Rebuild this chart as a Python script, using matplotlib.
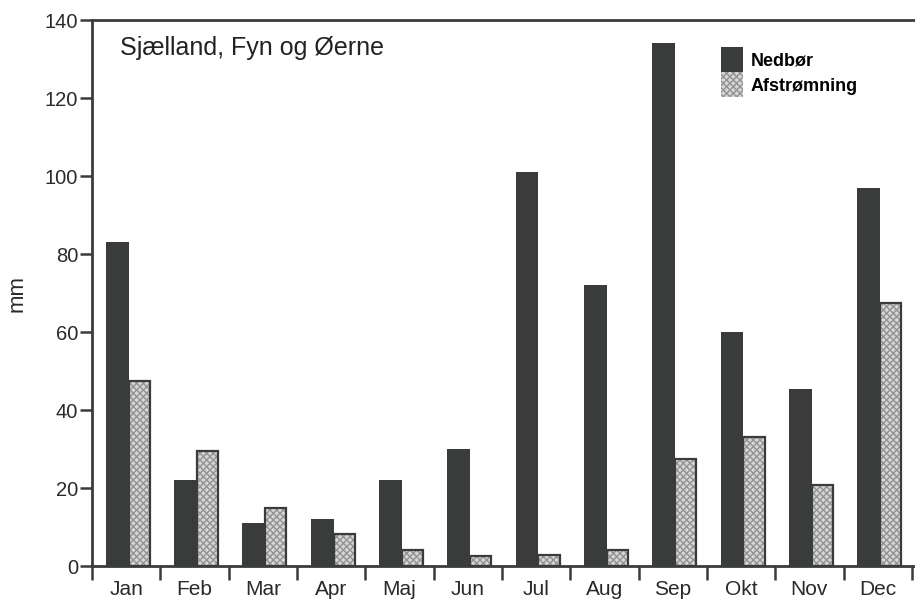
import matplotlib

matplotlib.use("Agg")
import matplotlib.pyplot as plt
import numpy as np
from matplotlib.patches import Patch

plt.rcParams["font.family"] = ["Liberation Sans", "DejaVu Sans"]

MONTHS = ["Jan", "Feb", "Mar", "Apr", "Maj", "Jun", "Jul", "Aug", "Sep", "Okt", "Nov", "Dec"]
NEDBOR = [83, 22, 11, 12, 22, 30, 101, 72, 134, 60, 45.5, 97]
AFSTROMNING = [47.5, 29.5, 15, 8.3, 4, 2.6, 2.8, 4, 27.5, 33, 20.8, 67.5]

DARK = "#393c3a"
STIPPLE_FACE = "#d6d6d6"
STIPPLE_DOTS = "#939393"


def main() -> None:
    fig = plt.figure(figsize=(9.15, 6.01), dpi=100)
    # axes runs past the right edge, as in the cropped scan
    ax = fig.add_axes([0.1005, 0.0582, 0.926, 0.9085])

    x = np.arange(len(MONTHS))
    ax.bar(x + 0.2, NEDBOR, width=0.335, align="edge", color=DARK, linewidth=0)
    ax.bar(x + 0.535, AFSTROMNING, width=0.31, align="edge", color=STIPPLE_FACE,
           edgecolor=STIPPLE_DOTS, hatch="xxxxx", linewidth=0)
    ax.bar(x + 0.535, AFSTROMNING, width=0.31, align="edge", fill=False,
           edgecolor=DARK, linewidth=1.6)

    ax.set_xlim(0, 12.4)
    ax.set_ylim(0, 140)
    ax.set_yticks(np.arange(0, 141, 20))
    ax.set_xticks(np.arange(0, 13))
    ax.set_xticklabels([])
    ax.set_xticks(x + 0.5, minor=True)
    ax.set_xticklabels(MONTHS, minor=True)
    ax.tick_params(axis="x", which="major", direction="out", length=10, width=1.8, color=DARK)
    ax.tick_params(axis="x", which="minor", length=0, labelsize=15, pad=10)
    ax.tick_params(axis="y", direction="out", length=9, width=1.8, color=DARK,
                   labelsize=14.5, pad=1)
    for lbl in ax.get_xticklabels(minor=True) + ax.get_yticklabels():
        lbl.set_color("#2a2a2a")

    for side in ("left", "top", "bottom"):
        ax.spines[side].set_linewidth(2.0)
        ax.spines[side].set_color(DARK)
    ax.spines["right"].set_visible(False)

    ax.set_ylabel("mm", fontsize=16, labelpad=12, color="#2a2a2a")
    ax.text(0.033, 0.97, "Sjælland, Fyn og Øerne", transform=ax.transAxes,
            fontsize=18, va="top", ha="left", color="#222222")

    handles = [
        Patch(facecolor=DARK, linewidth=0, label="Nedbør"),
        Patch(facecolor=STIPPLE_FACE, edgecolor=STIPPLE_DOTS, hatch="xxxxx",
              linewidth=0, label="Afstrømning"),
    ]
    fig.legend(handles=handles, loc="upper left", bbox_to_anchor=(0.778, 0.936),
               frameon=False, handlelength=1.2, handleheight=1.75,
               labelspacing=0.0, handletextpad=0.45, borderpad=0.0,
               prop={"weight": "bold", "size": 13})

    fig.savefig("out.png", dpi=100)


if __name__ == "__main__":
    main()
